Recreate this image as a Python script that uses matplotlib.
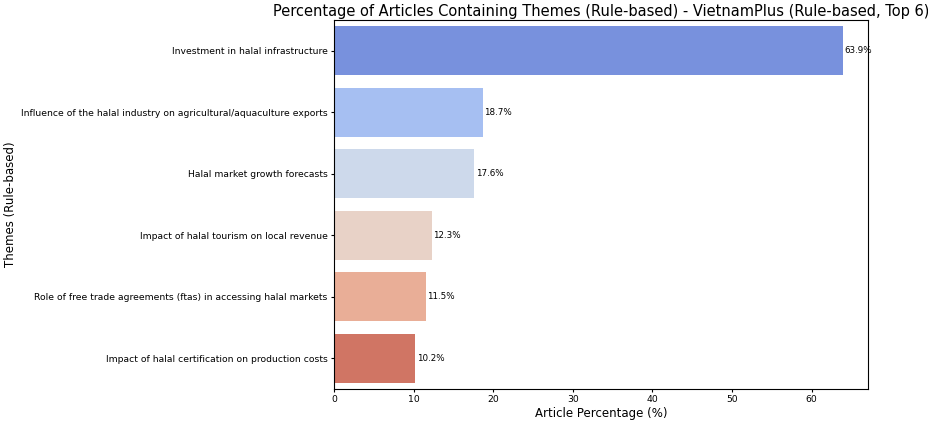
import matplotlib
matplotlib.use('Agg')
import matplotlib.pyplot as plt
import seaborn as sns
import pandas as pd

# Top 6 themes and their share of articles
themes = [
    'Investment in halal infrastructure',
    'Influence of the halal industry on agricultural/aquaculture exports',
    'Halal market growth forecasts',
    'Impact of halal tourism on local revenue',
    'Role of free trade agreements (ftas) in accessing halal markets',
    'Impact of halal certification on production costs',
]
percentages = [63.9, 18.7, 17.6, 12.3, 11.5, 10.2]

df = pd.DataFrame({'Theme': themes, 'Percentage': percentages})

fig = plt.figure(figsize=(9.29, 4.21), dpi=100)
ax = fig.add_axes([334 / 929, 32 / 421, 534 / 929, 369 / 421])

sns.barplot(data=df, x='Percentage', y='Theme', hue='Theme',
            palette='coolwarm', legend=False, ax=ax)

for i, v in enumerate(percentages):
    ax.text(v + 0.2, i, f'{v:.1f}%', va='center', fontsize=6.3)

ax.set_title('Percentage of Articles Containing Themes (Rule-based) - VietnamPlus (Rule-based, Top 6)',
             fontsize=10.5, pad=3)
ax.set_xlabel('Article Percentage (%)', fontsize=8.5, labelpad=2)
ax.set_ylabel('Themes (Rule-based)', fontsize=8.5, labelpad=3)
ax.tick_params(axis='both', labelsize=6.7, length=2.5, pad=2)
for s in ax.spines.values():
    s.set_linewidth(0.8)

fig.savefig('out.png', dpi=100)
